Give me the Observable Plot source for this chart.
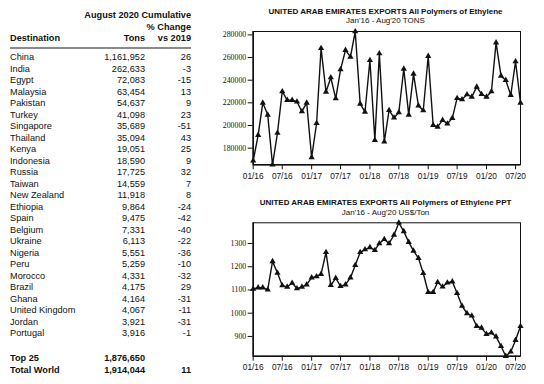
<!DOCTYPE html>
<html>
<head>
<meta charset="utf-8">
<script src="https://cdn.jsdelivr.net/npm/d3@7"></script>
<script src="https://cdn.jsdelivr.net/npm/@observablehq/plot@0.6"></script>
<style>
  html, body { margin: 0; padding: 0; background: #fff; }
  #root { position: relative; width: 544px; height: 384px; overflow: hidden; font-family: "Liberation Sans", Arial, sans-serif; color: #111; }
  .t { position: absolute; white-space: nowrap; font-size: 9.2px; line-height: 11.5px; }
  .b { font-weight: bold; }
  .r { text-align: right; }
  .ttl { position: absolute; white-space: nowrap; text-align: center; font-size: 8px; line-height: 9px; }
  .chart { position: absolute; }
</style>
</head>
<body>
<div id="root"></div>
<script>
// ---- Table data ----
const destinations = ["China","India","Egypt","Malaysia","Pakistan","Turkey","Singapore","Thailand","Kenya","Indonesia","Russia","Taiwan","New Zealand","Ethiopia","Spain","Belgium","Ukraine","Nigeria","Peru","Morocco","Brazil","Ghana","United Kingdom","Jordan","Portugal"];
const tons = [1161952,262633,72083,63454,54637,41098,35689,35094,19051,18590,17725,14559,11918,9864,9475,7331,6113,5551,5259,4331,4175,4164,4067,3921,3916];
const pctChange = [26,-3,-15,13,9,23,-51,43,25,9,32,7,8,-24,-42,-40,-22,-36,-10,-32,29,-31,-11,-31,-1];
const top25Tons = 1876650;
const worldTons = 1914044;
const worldPct = 11;

// ---- Monthly series, Jan'16 .. Aug'20 ----
const months = ["2016-01","2016-02","2016-03","2016-04","2016-05","2016-06","2016-07","2016-08","2016-09","2016-10","2016-11","2016-12",
"2017-01","2017-02","2017-03","2017-04","2017-05","2017-06","2017-07","2017-08","2017-09","2017-10","2017-11","2017-12",
"2018-01","2018-02","2018-03","2018-04","2018-05","2018-06","2018-07","2018-08","2018-09","2018-10","2018-11","2018-12",
"2019-01","2019-02","2019-03","2019-04","2019-05","2019-06","2019-07","2019-08","2019-09","2019-10","2019-11","2019-12",
"2020-01","2020-02","2020-03","2020-04","2020-05","2020-06","2020-07","2020-08"];
const exportTons = [168800,191500,220000,209400,165300,193500,230000,222400,222400,221000,212400,220000,
171800,202000,268200,229700,242400,223800,249400,266500,260600,283000,219100,212000,
257600,187100,263500,185600,213500,206800,211500,250000,209400,245600,217400,213200,
261200,200300,198800,204700,201500,206500,224100,223000,227400,225300,234100,227600,
225300,230000,273200,243800,240000,226800,256500,220000];
const pricePPT = [1104,1110,1110,1101,1223,1173,1119,1113,1130,1106,1113,1123,
1153,1158,1168,1262,1120,1151,1116,1123,1153,1206,1262,1274,
1283,1271,1300,1318,1300,1337,1389,1352,1306,1268,1237,1172,
1090,1090,1133,1114,1131,1136,1086,1031,999,989,944,937,
910,916,899,858,815,834,884,944];

const topTicks = [180000,200000,220000,240000,260000,280000];
const bottomTicks = [900,1000,1100,1200,1300];
const xTickLabels = ["01/16","07/16","01/17","07/17","01/18","07/18","01/19","07/19","01/20","07/20"];

const root = document.getElementById("root");
const fmt = d3.format(",");

function addText(txt, x, y, cls, align) {
  const d = document.createElement("div");
  d.className = "t " + (cls || "");
  d.textContent = txt;
  d.style.top = (y - 5.75) + "px";
  if (align === "right") { d.style.right = (544 - x) + "px"; d.style.textAlign = "right"; }
  else d.style.left = x + "px";
  root.appendChild(d);
}

// header
addText("August 2020 Cumulative", 191, 15.7, "b", "right");
addText("% Change", 191, 28, "b", "right");
addText("Destination", 10, 38.7, "b");
addText("Tons", 145, 38.7, "b", "right");
addText("vs 2019", 191, 38.7, "b", "right");
const rule = document.createElement("div");
rule.style.cssText = "position:absolute;left:10px;top:46.7px;width:181px;height:2px;background:#8a8a8a;";
root.appendChild(rule);

destinations.forEach((d, i) => {
  const y = 58 + i * 11.5;
  addText(d, 10, y);
  addText(fmt(tons[i]), 145, y, "", "right");
  addText(String(pctChange[i]), 191, y, "", "right");
});
addText("Top 25", 10, 358.7, "b");
addText(fmt(top25Tons), 145, 358.7, "b", "right");
addText("Total World", 10, 370.3, "b");
addText(fmt(worldTons), 145, 370.3, "b", "right");
addText(String(worldPct), 191, 370.3, "b", "right");

function addTitle(txt, cy, bold) {
  const d = document.createElement("div");
  d.className = "ttl";
  d.textContent = txt;
  d.style.left = "200px";
  d.style.width = "371px";
  d.style.top = (cy - 4.5) + "px";
  if (bold) d.style.fontWeight = "bold";
  root.appendChild(d);
}

const parse = d3.utcParse("%Y-%m");
const dates = months.map(parse);
const xTicks = xTickLabels.map(s => d3.utcParse("%m/%y")(s));

function makeChart(values, ticks, top, marginTop, marginBottom) {
  const data = dates.map((d, i) => ({date: d, value: values[i]}));
  const svg = Plot.plot({
    width: 340,
    height: 160,
    marginLeft: 52.7,
    marginRight: 20,
    marginTop,
    marginBottom,
    style: {background: "transparent", color: "#111"},
    x: {type: "utc", domain: [dates[0], dates[dates.length - 1]]},
    y: {domain: d3.extent(values)},
    marks: [
      Plot.axisX({ticks: xTicks, tickFormat: d3.utcFormat("%m/%y"), tickSize: 5, tickPadding: 3.2,
        fontSize: 8.3, fontFamily: "Liberation Sans, Arial, sans-serif", label: null, stroke: "#111"}),
      Plot.axisY({ticks, tickFormat: d3.format("d"), tickSize: 5, tickPadding: 2,
        fontSize: 7.8, fontFamily: "Liberation Serif, Times New Roman, serif", label: null, stroke: "#111"}),
      Plot.frame({stroke: "#111", strokeWidth: 1}),
      Plot.ruleY([d3.min(values)], {stroke: "#111", strokeWidth: 1.6}),
      Plot.ruleX([dates[0]], {stroke: "#111", strokeWidth: 1.6}),
      Plot.line(data, {x: "date", y: "value", stroke: "#111", strokeWidth: 1.4}),
      Plot.dot(data, {x: "date", y: "value", symbol: "triangle", fill: "#111", r: 2.3})
    ]
  });
  svg.classList.add("chart");
  svg.style.left = "200px";
  svg.style.top = top + "px";
  svg.style.overflow = "visible";
  root.appendChild(svg);
}

addTitle("UNITED ARAB EMIRATES EXPORTS All Polymers of Ethylene", 11.7, true);
addTitle("Jan'16 - Aug'20 TONS", 20.3, false);
makeChart(exportTons, topTicks, 25, 6, 20.7);

addTitle("UNITED ARAB EMIRATES EXPORTS All Polymers of Ethylene PPT", 202.3, true);
addTitle("Jan'16 - Aug'20 US$/Ton", 212.7, false);
makeChart(pricePPT, bottomTicks, 215, 7.3, 19.3);
</script>
</body>
</html>
